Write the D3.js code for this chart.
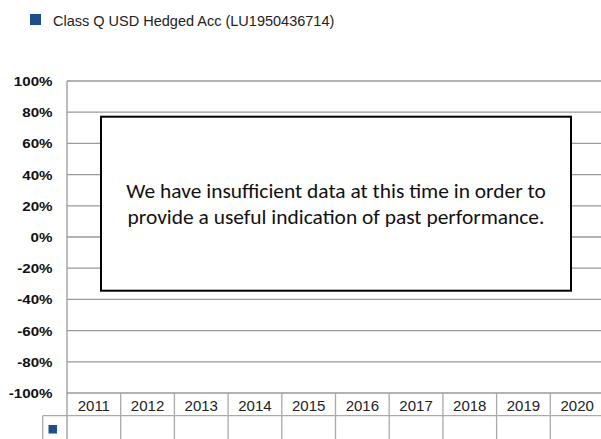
<!DOCTYPE html>
<html><head><meta charset="utf-8">
<script src="https://cdn.jsdelivr.net/npm/d3@7/dist/d3.min.js"></script>
<style>body{margin:0;background:#fff;}svg{display:block;}</style>
</head><body>
<script>
const years = ["2011","2012","2013","2014","2015","2016","2017","2018","2019","2020"];
const values = [null,null,null,null,null,null,null,null,null,null];
const yTicks = [100,80,60,40,20,0,-20,-40,-60,-80,-100];
const seriesName = "Class Q USD Hedged Acc (LU1950436714)";
const seriesColor = "#1F4E8C";
const message = ["We have insufficient data at this time in order to","provide a useful indication of past performance."];

(function () {
const W = 601, H = 439;
const svg = d3.select("body").append("svg").attr("width", W).attr("height", H);
const plotLeft = 67, colW = 53.7, plotTop = 81, plotBottom = 393;
const x = d3.scaleBand().domain(years).range([plotLeft, plotLeft + colW * years.length]);
const y = d3.scaleLinear().domain([-100, 100]).range([plotBottom, plotTop]);

// legend
svg.append("rect").attr("x", 30).attr("y", 14).attr("width", 11).attr("height", 11).attr("fill", seriesColor);
svg.append("text").attr("x", 53).attr("y", 25.5).attr("font-family", "Liberation Sans, Arial, sans-serif")
  .attr("font-size", 14.5).attr("fill", "#222").text(seriesName);

// gridlines
svg.append("g").selectAll("line").data(yTicks).join("line")
  .attr("x1", plotLeft).attr("x2", W).attr("y1", d => y(d)).attr("y2", d => y(d))
  .attr("stroke", "#9a9a9a").attr("stroke-width", 1.3);
svg.append("line").attr("x1", plotLeft).attr("x2", plotLeft).attr("y1", plotTop).attr("y2", H)
  .attr("stroke", "#9a9a9a").attr("stroke-width", 1.3);

// y labels (slightly stretched horizontally as in reference)
svg.append("g").selectAll("text").data(yTicks).join("text")
  .attr("transform", d => `translate(52.5,${y(d) + 5}) scale(1.13,1)`)
  .attr("text-anchor", "end")
  .attr("font-family", "Liberation Sans, Arial, sans-serif").attr("font-weight", "bold")
  .attr("font-size", 13.4).attr("fill", "#111").text(d => d + "%");

// data table
const rowTop = plotBottom, rowMid = 415.7;
const tbl = svg.append("g").attr("stroke", "#aaaaaa").attr("stroke-width", 1.3);
tbl.append("line").attr("x1", 42.7).attr("x2", W).attr("y1", rowMid).attr("y2", rowMid);
tbl.append("line").attr("x1", 42.7).attr("x2", 42.7).attr("y1", rowMid).attr("y2", H);
tbl.selectAll("line.c").data(years).join("line").attr("class", "c")
  .attr("x1", d => x(d) + x.bandwidth()).attr("x2", d => x(d) + x.bandwidth())
  .attr("y1", rowTop).attr("y2", H);
svg.append("g").selectAll("text").data(years).join("text")
  .attr("x", d => x(d) + x.bandwidth() / 2).attr("y", 410.5)
  .attr("text-anchor", "middle").attr("font-family", "Liberation Sans, Arial, sans-serif")
  .attr("font-size", 15).attr("fill", "#222").text(d => d);
svg.append("rect").attr("x", 48.5).attr("y", 425).attr("width", 8.5).attr("height", 8.5).attr("fill", seriesColor);

// bars (no data)
svg.append("g").selectAll("rect").data(values.map((v, i) => ({v, yr: years[i]})).filter(d => d.v != null))
  .join("rect").attr("x", d => x(d.yr) + 10).attr("width", x.bandwidth() - 20)
  .attr("y", d => y(Math.max(0, d.v))).attr("height", d => Math.abs(y(d.v) - y(0))).attr("fill", seriesColor);

// message box
svg.append("rect").attr("x", 101).attr("y", 116.7).attr("width", 470).attr("height", 174)
  .attr("fill", "#fff").attr("stroke", "#000").attr("stroke-width", 2);
svg.append("g").selectAll("text").data(message).join("text")
  .attr("transform", (d, i) => `translate(336,${198 + i * 26}) scale(1.1,1)`).attr("text-anchor", "middle")
  .attr("font-family", "Carlito, Lato, sans-serif").attr("font-size", 19.5).attr("fill", "#111").text(d => d);
})();
</script>
</body></html>
